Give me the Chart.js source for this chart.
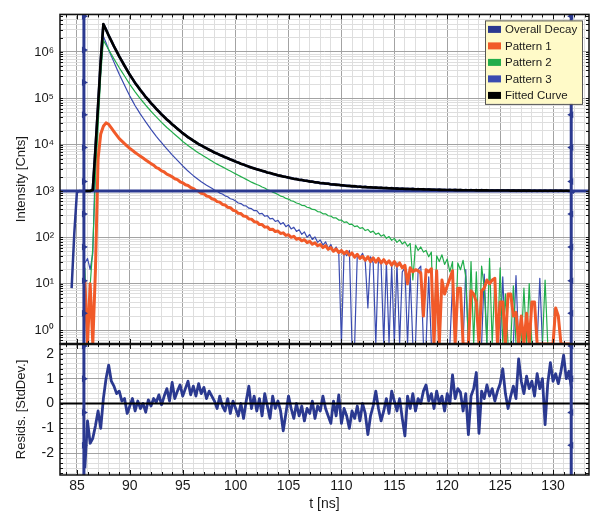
<!DOCTYPE html>
<html>
<head>
<meta charset="utf-8">
<script src="https://cdn.jsdelivr.net/npm/chart.js@4.4.0/dist/chart.umd.min.js"></script>
<style>
  html, body { margin: 0; padding: 0; background: #fff; }
  #wrap { width: 593px; height: 513px; }
</style>
</head>
<body>
<div id="wrap"><canvas id="decayChart" width="593" height="513"></canvas></div>
<script>
/////////////////////////////
///////// Data //////////////
/////////////////////////////

// time axis [ns], 0.25 ns bins
const timeNs = [
  84, 84.25, 84.5, 84.75, 85, 85.25, 85.5, 85.75,
  86, 86.25, 86.5, 86.75, 87, 87.25, 87.5, 87.75,
  88, 88.25, 88.5, 88.75, 89, 89.25, 89.5, 89.75,
  90, 90.25, 90.5, 90.75, 91, 91.25, 91.5, 91.75,
  92, 92.25, 92.5, 92.75, 93, 93.25, 93.5, 93.75,
  94, 94.25, 94.5, 94.75, 95, 95.25, 95.5, 95.75,
  96, 96.25, 96.5, 96.75, 97, 97.25, 97.5, 97.75,
  98, 98.25, 98.5, 98.75, 99, 99.25, 99.5, 99.75,
  100, 100.25, 100.5, 100.75, 101, 101.25, 101.5, 101.75,
  102, 102.25, 102.5, 102.75, 103, 103.25, 103.5, 103.75,
  104, 104.25, 104.5, 104.75, 105, 105.25, 105.5, 105.75,
  106, 106.25, 106.5, 106.75, 107, 107.25, 107.5, 107.75,
  108, 108.25, 108.5, 108.75, 109, 109.25, 109.5, 109.75,
  110, 110.25, 110.5, 110.75, 111, 111.25, 111.5, 111.75,
  112, 112.25, 112.5, 112.75, 113, 113.25, 113.5, 113.75,
  114, 114.25, 114.5, 114.75, 115, 115.25, 115.5, 115.75,
  116, 116.25, 116.5, 116.75, 117, 117.25, 117.5, 117.75,
  118, 118.25, 118.5, 118.75, 119, 119.25, 119.5, 119.75,
  120, 120.25, 120.5, 120.75, 121, 121.25, 121.5, 121.75,
  122, 122.25, 122.5, 122.75, 123, 123.25, 123.5, 123.75,
  124, 124.25, 124.5, 124.75, 125, 125.25, 125.5, 125.75,
  126, 126.25, 126.5, 126.75, 127, 127.25, 127.5, 127.75,
  128, 128.25, 128.5, 128.75, 129, 129.25, 129.5, 129.75,
  130, 130.25, 130.5, 130.75, 131, 131.25, 131.5, 131.75,
  132
];

// measured counts
const overallDecay = [
  null, null, 8, 120, 950, 1000, 990, 1010,
  1000, 995, 1080, 8200, 70000, 640000, 3950000, 3060000,
  2260000, 1740000, 1320000, 1040000, 795000, 640000, 500000, 404000,
  319000, 265000, 213000, 181000, 149000, 128000, 106000, 93000,
  78000, 69000, 58600, 52100, 44500, 40000, 34600, 31400,
  27300, 24900, 21900, 20000, 17500, 16200, 14300, 13400,
  12100, 11300, 10200, 9670, 8850, 8380, 7700, 7310,
  6720, 6430, 5970, 5740, 5330, 5120, 4770, 4590,
  4280, 4120, 3850, 3730, 3490, 3380, 3170, 3100,
  2930, 2850, 2710, 2640, 2490, 2450, 2330, 2280,
  2160, 2140, 2040, 2020, 1930, 1910, 1820, 1820,
  1730, 1740, 1660, 1670, 1590, 1600, 1530, 1540,
  1470, 1490, 1430, 1450, 1380, 1400, 1350, 1370,
  1310, 1330, 1280, 1300, 1250, 1280, 1225, 1250,
  1205, 1230, 1188, 1212, 1170, 1195, 1155, 1180,
  1140, 1168, 1130, 1155, 1118, 1143, 1105, 1132,
  1095, 1122, 1086, 1114, 1078, 1106, 1070, 1097,
  1062, 1090, 1055, 1082, 1047, 1075, 1040, 1068,
  1036, 1064, 1032, 1060, 1028, 1056, 1024, 1052,
  1021, 1050, 1019, 1048, 1017, 1046, 1015, 1044,
  1012, 1042, 1010, 1040, 1008, 1038, 1007, 1036,
  1005, 1034, 1004, 1032, 1003, 1031, 1002, 1030,
  1001, 1029, 1000, 1028, 999, 1027, 998, 1026,
  997, 1025, 996, 1022, 992, 1018, 985, 1000,
  900
];

const pattern1 = [
  null, null, null, null, null, null, null, 12,
  0, 10, 0, 20, 5000, 17000, 25000, 29500,
  27500, 22900, 19100, 16000, 13500, 11900, 10500, 9330,
  8320, 7500, 6760, 6170, 5620, 5130, 4680, 4270,
  3890, 3600, 3200, 3020, 2720, 2570, 2310, 2180,
  2020, 1840, 1760, 1580, 1500, 1360, 1310, 1190,
  1130, 1030, 990, 895, 865, 780, 755, 680,
  655, 590, 575, 512, 500, 445, 437, 385,
  372, 330, 325, 287, 283, 250, 247, 218,
  215, 188, 188, 166, 168, 147, 150, 133,
  137, 121, 125, 110, 114, 100, 105, 91,
  95, 84, 89, 77, 82, 71, 76, 66,
  70, 60, 66, 55, 60, 50, 56, 47,
  52, 44, 50, 41, 46, 37, 43, 35,
  39, 32, 38, 30, 36, 29, 35, 28,
  33, 27, 31, 25, 30, 24, 28, 22,
  25, 10, 22, 18, 20, 19, 17, 2,
  20, 18, 21, 0, 19, 0, 12, 6,
  9, 13, 19, 0, 8, 8, 0, 0,
  0, 7, 6, 4, 0, 7, 8, 12,
  10, 12, 13, 0, 4, 4, 0, 6,
  6, 2, 2.4, 0, 2, 0, 2.3, 0,
  4, 4, 0, 0, 0, 0, 0, 0,
  0, 3, 2, 0, 0, 0, 0, 0,
  null
];

const pattern2 = [
  null, null, null, null, null, null, null, 22,
  0, 9, 60, 2000, 25000, 320000, 1780000, 1410000,
  1120000, 891000, 708000, 569000, 457000, 372000, 302000, 245000,
  200000, 166000, 138000, 116000, 97700, 83200, 70800, 61000,
  52500, 45700, 39800, 34700, 30200, 26600, 23400, 20900,
  18600, 16600, 14800, 13200, 11700, 10600, 9550, 8710,
  7940, 7240, 6610, 6100, 5620, 5190, 4790, 4420,
  4070, 3800, 3550, 3310, 3090, 2880, 2690, 2510,
  2340, 2190, 2040, 1910, 1780, 1660, 1550, 1460,
  1380, 1310, 1220, 1160, 1060, 1020, 945, 900,
  840, 775, 750, 690, 670, 615, 595, 550,
  530, 490, 485, 445, 432, 400, 395, 360,
  352, 322, 322, 292, 288, 262, 262, 236,
  236, 210, 216, 190, 192, 170, 176, 156,
  162, 140, 148, 128, 136, 116, 124, 106,
  114, 95, 104, 86, 95, 78, 88, 72,
  80, 64, 74, 12, 68, 52, 62, 48,
  52, 38, 48, 0, 40, 30, 42, 26,
  34, 18, 30, 0, 28, 20, 32, 14,
  0, 30, 0, 18, 0, 24, 8, 0,
  35, 0, 12, 0, 22, 0, 6, 0,
  0, 9, 0, 0, 0, 8, 0, 10,
  0, 0, 0, 0, 0, 12, 0, 0,
  0, 0, 0, 0, 0, 0, 0, 0,
  null
];

const pattern3 = [
  null, null, null, null, null, null, null, 28,
  35, 20, 45, 5000, 50000, 420000, 2190000, 1580000,
  1120000, 813000, 603000, 447000, 331000, 251000, 191000, 146000,
  112000, 88100, 69200, 56200, 45700, 37600, 30900, 25700,
  21400, 18000, 15100, 12900, 11000, 9440, 8130, 7000,
  6030, 5250, 4570, 3980, 3470, 3050, 2690, 2400,
  2140, 1930, 1740, 1580, 1450, 1330, 1230, 1140,
  1050, 985, 900, 860, 785, 750, 680, 655,
  610, 550, 535, 485, 478, 425, 415, 375,
  375, 322, 330, 285, 295, 250, 256, 220,
  232, 192, 208, 170, 186, 152, 165, 134,
  146, 116, 131, 100, 115, 90, 102, 78,
  88, 68, 80, 58, 70, 50, 62, 44,
  0, 48, 40, 52, 0, 0, 42, 36,
  45, 30, 3, 38, 28, 0, 34, 26,
  0, 30, 0, 24, 0, 28, 0, 18,
  22, 0, 16, 0, 0, 20, 24, 0,
  0, 14, 0, 0, 12, 0, 0, 0,
  0, 0, 10, 0, 0, 0, 0, 20,
  0, 0, 0, 0, 0, 0, 16, 0,
  0, 0, 0, 0, 0, 14, 0, 0,
  0, 0, 15, 0, 0, 0, 0, 0,
  0, 0, 0, 13, 0, 0, 0, 0,
  0, 0, 0, 0, 0, 0, 0, 0,
  null
];

const fittedCurve = [
  null, null, null, null, null, null, null, 1000,
  1000, 1000, 1050, 8000, 71000, 650000, 3990000, 3020000,
  2270000, 1730000, 1330000, 1030000, 802000, 635000, 504000, 400000,
  321000, 262000, 215000, 179000, 150000, 127000, 107000, 92000,
  78800, 68300, 59200, 51600, 44900, 39600, 34900, 31100,
  27600, 24700, 22100, 19800, 17700, 16000, 14500, 13300,
  12200, 11200, 10300, 9590, 8920, 8310, 7760, 7250,
  6770, 6380, 6020, 5690, 5370, 5080, 4810, 4550,
  4310, 4090, 3880, 3700, 3520, 3350, 3200, 3070,
  2950, 2830, 2730, 2620, 2510, 2430, 2350, 2260,
  2180, 2120, 2060, 2000, 1950, 1890, 1840, 1800,
  1750, 1720, 1680, 1650, 1610, 1580, 1550, 1520,
  1490, 1470, 1450, 1430, 1400, 1380, 1370, 1350,
  1330, 1310, 1300, 1280, 1270, 1260, 1245, 1234,
  1223, 1213, 1205, 1196, 1188, 1179, 1172, 1165,
  1158, 1152, 1146, 1139, 1133, 1127, 1121, 1115,
  1110, 1106, 1102, 1098, 1094, 1090, 1086, 1081,
  1077, 1073, 1070, 1066, 1062, 1059, 1056, 1053,
  1051, 1049, 1047, 1045, 1043, 1041, 1039, 1037,
  1036, 1035, 1034, 1033, 1032, 1031, 1030, 1029,
  1027, 1026, 1025, 1024, 1023, 1022, 1022, 1021,
  1020, 1019, 1019, 1018, 1018, 1017, 1017, 1016,
  1015, 1015, 1014, 1014, 1014, 1013, 1013, 1013,
  1012, 1012, 1012, 1011, 1011, 1011, 1011, 1010,
  null
];

// weighted residuals [StdDev.]
const residuals = [
  null, null, null, null, null, null, null, -2.6,
  -0.7, -1.6, -1.4, -0.9, -0.3, -1.0, 0.2, 1.0,
  1.55, 0.9, 0.7, 0.4, 0.5, 0.1, 0.2, -0.4,
  -0.1, 0.2, -0.3, 0.1, -0.2, 0.0, -0.35, 0.15,
  -0.1, 0.2, 0.05, 0.35, -0.05, 0.3, 0.6, 0.1,
  0.85, 0.2, 0.5, 0.75, 0.3, 0.6, 0.9, 0.35,
  0.7, 0.3, 0.8, 0.4, 0.65, 0.2, 0.5, 0.3,
  0.1, -0.2, 0.3, -0.1, -0.3, 0.2, -0.4, 0.1,
  -0.2, -0.5, 0.0, -0.6, 0.1, 0.7, -0.2, 0.3,
  -0.3, 0.2, -0.5, 0.4, -0.1, -0.6, 0.3, -0.2,
  0.1, -0.3, -1.1, -0.4, 0.3, -0.2, -0.6, 0.0,
  -0.5, -0.1, -0.7, -0.2, -0.4, 0.1, -0.6, -0.1,
  -0.3, 0.3, -0.2, -0.5, -0.8, 0.1, -0.5, 0.35,
  -0.8, -0.2, -0.5, -1.0, -0.3, -0.6, -0.1, -0.7,
  0.0, -0.4, -1.25, -0.5, -0.1, 0.5, -0.2, -0.7,
  -0.3, 0.2, -0.4, 0.5, 0.1, -0.3, 0.2, -0.6,
  -1.3, 0.3, -0.2, 0.4, -0.3, 0.2, 0.0, 0.5,
  0.75, 0.1, 0.4, -0.2, 0.5, 0.0, 0.3, -0.3,
  0.4, 0.0, 1.15, 0.2, 0.6, 0.45, -0.3, 0.4,
  -1.25, 0.3, 0.6, 1.25, -1.2, 0.5, 0.2, 0.75,
  0.3, 0.6, 0.1, 0.5, 0.8, 1.4, 0.4, -0.2,
  0.3, 0.7, 0.2, 1.8, 0.9, 0.4, 1.1, 0.6,
  0.9, 0.3, 1.2, 0.6, 1.0, -0.85, 0.8, 1.65,
  0.9, 1.2, 0.8, 1.3, 1.95, 1.0, 1.3, 0.6,
  null
];

const backgroundLevel = 1000;
const cursorTimes = [85.66, 131.72];
const cursorMarksCounts = [5.9e6, 1.1e6, 2.2e5, 4.4e4, 8700, 1600, 320, 62, 11.5, 2.3];
const cursorMarksResid = [2.32, 1.0, -0.36, -1.68];

// axis ranges
const timeMin = 83.4, timeMax = 133.4;
const countMin = 0.5, countMax = 6.46e6;
const residMin = -2.88, residMax = 2.4;

/////////////////////////////
///////// Styles ////////////
/////////////////////////////

const navy = '#2b3990';
const colRed = '#f15a29';
const colGreen = '#22ad4b';
const colBlue = '#3a4bb0';
const gridMajor = '#a3a3a3';
const gridMinor = '#dedede';
const tickFont = { family: "'Liberation Sans', Arial, sans-serif", size: 13 };
const titleFont = { family: "'Liberation Sans', Arial, sans-serif", size: 13 };
const sup = { '-': '\u207b', '0': '\u2070', '1': '\u00b9', '2': '\u00b2', '3': '\u00b3', '4': '\u2074', '5': '\u2075', '6': '\u2076', '7': '\u2077', '8': '\u2078', '9': '\u2079' };

function toPoints(values, floor) {
  return timeNs.map((t, i) => ({
    x: t,
    y: values[i] === null ? null : (floor !== undefined ? Math.max(values[i], floor) : values[i])
  }));
}

function cursorLine(lo, hi) {
  const pts = [];
  cursorTimes.forEach((t, i) => {
    if (i > 0) pts.push({ x: t, y: null });
    pts.push({ x: t, y: hi }, { x: t, y: lo });
  });
  return pts;
}

function cursorMarks(levels) {
  const pts = [];
  cursorTimes.forEach(t => levels.forEach(v => pts.push({ x: t, y: v })));
  return pts;
}

function lineSet(label, values, color, width, order, axis, floor) {
  return {
    label: label,
    data: toPoints(values, floor),
    borderColor: color,
    backgroundColor: color,
    borderWidth: width,
    borderJoinStyle: 'round',
    pointRadius: 0,
    tension: 0,
    order: order,
    yAxisID: axis,
    inLegend: true
  };
}

/////////////////////////////
///////// Plugins ///////////
/////////////////////////////

const framePlugin = {
  id: 'frame',
  afterDatasetsDraw(chart) {
    const { ctx, chartArea } = chart;
    const xs = chart.scales.x, ly = chart.scales.y, ry = chart.scales.yRes;
    const l = chartArea.left, r = chartArea.right;
    ctx.save();
    ctx.strokeStyle = '#111';
    ctx.lineWidth = 1;
    ctx.beginPath();
    xs.ticks.forEach(t => {
      const px = Math.round(xs.getPixelForValue(t.value)) + 0.5;
      const len = t.value % 5 === 0 ? 5 : 3;
      ctx.moveTo(px, ly.top); ctx.lineTo(px, ly.top + len);
      ctx.moveTo(px, ly.bottom - len); ctx.lineTo(px, ly.bottom + len);
      ctx.moveTo(px, ry.bottom); ctx.lineTo(px, ry.bottom - len);
    });
    [ly, ry].forEach(s => s.ticks.forEach(t => {
      const py = Math.round(s.getPixelForValue(t.value)) + 0.5;
      ctx.moveTo(l, py); ctx.lineTo(l + 3, py);
      ctx.moveTo(r, py); ctx.lineTo(r - 3, py);
    }));
    ctx.stroke();
    ctx.lineWidth = 1.5;
    ctx.strokeRect(l, ly.top, r - l, ly.bottom - ly.top);
    ctx.strokeRect(l, ry.top, r - l, ry.bottom - ry.top);
    ctx.lineWidth = 2.5;
    ctx.beginPath();
    ctx.moveTo(l, ly.bottom); ctx.lineTo(r, ly.bottom);
    ctx.stroke();
    ctx.restore();
  }
};

const legendPlugin = {
  id: 'boxLegend',
  afterDraw(chart) {
    const { ctx, chartArea } = chart;
    const items = chart.data.datasets.filter(d => d.inLegend);
    const w = 97, rowH = 16.5;
    const h = items.length * rowH + 1;
    const x = chartArea.right - 7 - w, y = chartArea.top + 6;
    ctx.save();
    ctx.fillStyle = '#fffac8';
    ctx.fillRect(x, y, w, h);
    ctx.strokeStyle = '#555';
    ctx.lineWidth = 1;
    ctx.strokeRect(x + 0.5, y + 0.5, w, h);
    ctx.font = "11.5px 'Liberation Sans', Arial, sans-serif";
    ctx.textBaseline = 'middle';
    items.forEach((d, i) => {
      const cy = y + 9 + i * rowH;
      ctx.fillStyle = d.borderColor;
      ctx.fillRect(x + 3, cy - 3.5, 13, 7);
      ctx.fillStyle = '#1a1a1a';
      ctx.fillText(d.label, x + 20, cy + 0.5);
    });
    ctx.restore();
  }
};

/////////////////////////////
///////// Chart /////////////
/////////////////////////////

const datasets = [
  lineSet('Overall Decay', overallDecay, navy, 2.5, 8, 'y', countMin),
  lineSet('Pattern 1', pattern1, colRed, 3, 5, 'y', countMin),
  lineSet('Pattern 2', pattern2, colGreen, 1.2, 6, 'y', countMin),
  lineSet('Pattern 3', pattern3, colBlue, 1.2, 7, 'y', countMin),
  lineSet('Fitted Curve', fittedCurve, '#000', 2.6, 3, 'y', countMin),
  {
    label: 'Background',
    data: [{ x: timeMin, y: backgroundLevel }, { x: timeMax, y: backgroundLevel }],
    borderColor: navy, borderWidth: 3, pointRadius: 0, order: 4, yAxisID: 'y'
  },
  {
    label: 'Residuals',
    data: toPoints(residuals),
    borderColor: navy, borderWidth: 2.8, borderJoinStyle: 'round',
    pointRadius: 0, tension: 0, order: 2, yAxisID: 'yRes'
  },
  {
    label: 'Zero',
    data: [{ x: timeMin, y: 0 }, { x: timeMax, y: 0 }],
    borderColor: '#000', borderWidth: 2, pointRadius: 0, order: 1, yAxisID: 'yRes'
  },
  {
    label: 'Cursor',
    data: cursorLine(countMin, countMax),
    borderColor: navy, borderWidth: 3, pointRadius: 0, order: 0, yAxisID: 'y'
  },
  {
    label: 'Cursor',
    data: cursorLine(residMin, residMax),
    borderColor: navy, borderWidth: 3, pointRadius: 0, order: 0, yAxisID: 'yRes'
  },
  {
    label: 'Marks',
    data: cursorMarks(cursorMarksCounts),
    showLine: false, pointStyle: 'triangle', pointRadius: 4, pointBorderWidth: 0,
    pointBackgroundColor: navy, pointRotation: c => (c.raw && c.raw.x > 110 ? -90 : 90),
    order: 0, yAxisID: 'y'
  },
  {
    label: 'Marks',
    data: cursorMarks(cursorMarksResid),
    showLine: false, pointStyle: 'triangle', pointRadius: 4, pointBorderWidth: 0,
    pointBackgroundColor: navy, pointRotation: c => (c.raw && c.raw.x > 110 ? -90 : 90),
    order: 0, yAxisID: 'yRes'
  }
];

const decayChart = new Chart(document.getElementById('decayChart'), {
  type: 'line',
  data: { datasets: datasets },
  options: {
    responsive: false,
    animation: false,
    events: [],
    spanGaps: false,
    layout: { padding: { top: 11, right: 1, left: 0, bottom: 0 } },
    plugins: { legend: { display: false }, tooltip: { enabled: false } },
    scales: {
      x: {
        type: 'linear',
        min: timeMin,
        max: timeMax,
        afterBuildTicks: s => {
          const t = [];
          for (let v = Math.ceil(timeMin); v <= timeMax; v++) t.push({ value: v });
          s.ticks = t;
        },
        afterFit: s => { s.height = 38; },
        ticks: {
          autoSkip: false, maxRotation: 0, padding: 3,
          font: { family: "'Liberation Sans', Arial, sans-serif", size: 14 }, color: '#1a1a1a',
          callback: v => (v % 5 === 0 ? String(v) : '')
        },
        grid: {
          drawTicks: false,
          color: c => (c.tick && c.tick.value % 5 === 0 ? gridMajor : gridMinor)
        },
        border: { display: false },
        title: { display: true, text: 't [ns]', font: { family: "'Liberation Sans', Arial, sans-serif", size: 14 }, color: '#1a1a1a', padding: { top: 0, bottom: 0 } }
      },
      yRes: {
        type: 'linear',
        position: 'left',
        stack: 'panels',
        stackWeight: 132,
        min: residMin,
        max: residMax,
        afterBuildTicks: s => {
          const t = [];
          for (let i = -14; i <= 12; i++) t.push({ value: i / 5 });
          s.ticks = t;
        },
        afterFit: s => { s.width = 60; },
        ticks: {
          autoSkip: false, padding: 6, font: { family: "'Liberation Sans', Arial, sans-serif", size: 14 }, color: '#1a1a1a',
          callback: v => (Number.isInteger(Math.round(v * 1000) / 1000) ? String(Math.round(v)) : '')
        },
        grid: {
          drawTicks: false,
          color: c => (c.tick && Number.isInteger(Math.round(c.tick.value * 1000) / 1000) ? gridMajor : gridMinor)
        },
        border: { display: false },
        title: { display: true, text: 'Resids. [StdDev.]', font: titleFont, color: '#1a1a1a', padding: { top: 14, bottom: 0 } }
      },
      y: {
        type: 'logarithmic',
        position: 'left',
        stack: 'panels',
        stackWeight: 332,
        min: countMin,
        max: countMax,
        afterBuildTicks: s => {
          const t = [];
          for (let e = -1; e <= 6; e++) {
            for (let k = 1; k <= 9; k++) {
              const v = Number((k * Math.pow(10, e)).toPrecision(2));
              if (v >= countMin && v <= countMax) t.push({ value: v, decade: k === 1 });
            }
          }
          s.ticks = t;
        },
        afterFit: s => { s.width = 60; },
        ticks: {
          autoSkip: false, padding: 6, font: tickFont, color: '#1a1a1a',
          callback: (v, i, ticks) => {
            if (!ticks[i].decade) return '';
            const e = String(Math.round(Math.log10(v)));
            return '10' + e.split('').map(ch => sup[ch]).join('');
          }
        },
        grid: {
          drawTicks: false,
          color: c => (c.tick && c.tick.decade ? gridMajor : gridMinor)
        },
        border: { display: false },
        title: { display: true, text: 'Intensity [Cnts]', font: titleFont, color: '#1a1a1a', padding: { top: 14, bottom: 0 } }
      }
    }
  },
  plugins: [framePlugin, legendPlugin]
});
</script>
</body>
</html>
